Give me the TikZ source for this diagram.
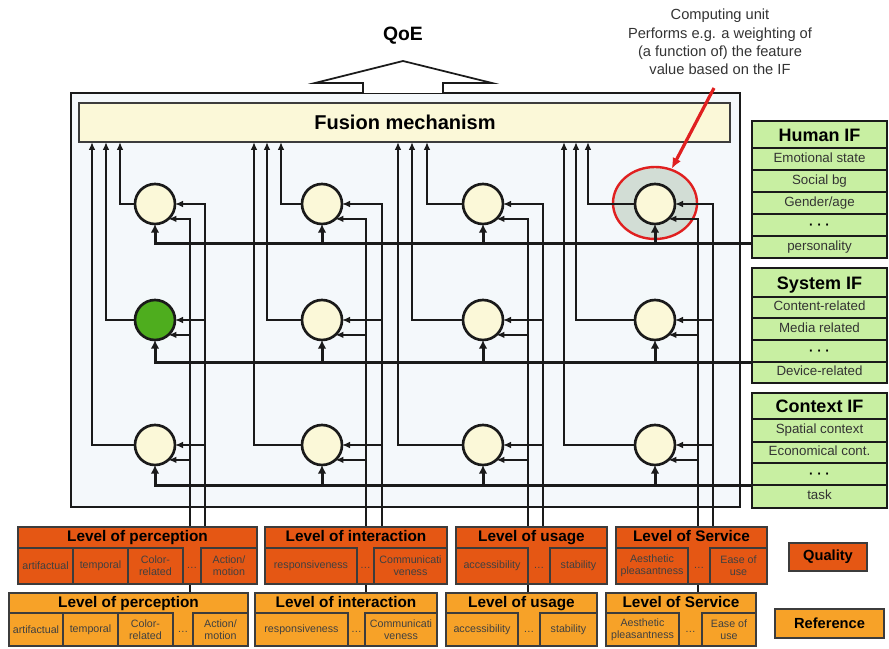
\documentclass[tikz,border=0pt]{standalone}
\usepackage{fontspec}
\setmainfont{Liberation Sans}
\usetikzlibrary{arrows.meta,fit,calc,shapes.geometric}
\definecolor{bgbox}{HTML}{F4F8FB}
\definecolor{fusionc}{HTML}{FBF8D8}
\definecolor{circ}{HTML}{FBF8D8}
\definecolor{leaf}{HTML}{4EAD1E}
\definecolor{qual}{HTML}{E55714}
\definecolor{refc}{HTML}{F7A228}
\definecolor{ifg}{HTML}{C8EFA2}
\definecolor{hlg}{HTML}{D2DDD5}
\definecolor{annred}{HTML}{E02020}
\definecolor{ink}{HTML}{1A1A1A}
\newcommand\mycell[6]{\draw[cellb] (#2,#4) rectangle (#3,#5); \node[ctxt] (#1) at ({(#2+#3)/2},{(#4+#5)/2}) {#6};}
\begin{document}
\begin{tikzpicture}[x=0.75pt,y=-0.75pt,
  wire/.style={draw=ink,line width=1.45pt},
  wirea/.style={wire,-{Latex[length=6pt,width=5pt]}},
  ifl/.style={draw=ink,line width=2.25pt},
  ifla/.style={ifl,-{Latex[length=6.5pt,width=6.5pt]}},
  cir/.style={circle,draw=ink,line width=2pt,fill=circ,minimum size=30pt,inner sep=0pt,outer sep=0pt},
  boxo/.style={draw=ink!85,line width=1.7pt,inner sep=0pt},
  cellb/.style={draw=ink!85,line width=1.6pt},
  ctxt/.style={font=\fontsize{8}{9}\selectfont,text=black!75,align=center,inner sep=0pt},
  ltitle/.style={font=\fontsize{11.5}{13}\selectfont\bfseries,inner sep=0pt,text height=8.5pt,text depth=2.4pt},
  pan/.style={draw=ink,line width=2.2pt,fill=ifg,inner sep=0pt},
  pdiv/.style={draw=ink,line width=1.7pt},
  ptitle/.style={font=\fontsize{13.5}{16}\selectfont\bfseries,inner sep=0pt,text height=10pt,text depth=0pt},
  pitem/.style={font=\fontsize{10}{12}\selectfont,text=black!80,inner sep=0pt,text height=7.3pt,text depth=2.1pt},
  pdots/.style={font=\fontsize{10}{12}\selectfont\bfseries,inner sep=0pt},
]
\useasboundingbox (0,0) rectangle (889,649);

% main frame
\node[fit={(71,93)(740,507)},draw=ink,line width=1.8pt,fill=bgbox,inner sep=0pt] (frame) {};

% QoE arrow
\draw[draw=ink,line width=1.3pt,fill=white,line join=miter] (363,93) -- (363,83) -- (315,83) -- (403,61) -- (492,83) -- (443,83) -- (443,93);
\node[font=\fontsize{14.5}{16}\selectfont\bfseries] (qoe) at (403,36) {QoE};

% fusion
\node[fit={(79,103)(730,142)},boxo,fill=fusionc] (fusion) {};
\node[font=\fontsize{15}{17}\selectfont\bfseries] (fusiont) at (405,122) {Fusion mechanism};

% annotation
\node[align=center,font=\fontsize{11}{13.7}\selectfont,text=black!80] (ann) at (720,42) {Computing unit\\Performs e.g. a weighting of\\(a function of) the feature\\value based on the IF};
\node[ellipse,draw=annred,line width=1.8pt,fill=hlg,minimum width=63pt,minimum height=54pt,inner sep=0pt] (hl) at (655,203) {};
\coordinate (ra) at (714,88);
\draw[annred,line width=2.4pt,-{Latex[length=8pt,width=7pt]}] (ra) -- (hl.64);

% computing units
\node[cir] (c11) at (155,204) {};
\node[cir,fill=leaf] (c12) at (155,320) {};
\node[cir] (c13) at (155,445) {};
\node[cir] (c21) at (322,204) {};
\node[cir] (c22) at (322,320) {};
\node[cir] (c23) at (322,445) {};
\node[cir] (c31) at (483,204) {};
\node[cir] (c32) at (483,320) {};
\node[cir] (c33) at (483,445) {};
\node[cir] (c41) at (655,204) {};
\node[cir] (c42) at (655,320) {};
\node[cir] (c43) at (655,445) {};

% wiring
\foreach \c/\oa/\ob/\oc/\ia/\ib in {1/120/106/92/205/190, 2/281/267/254/382/366, 3/427/412/398/543/528, 4/588/576/564/713/698}{
  \coordinate (o\c1) at (\oa,142);
  \coordinate (o\c2) at (\ob,142);
  \coordinate (o\c3) at (\oc,142);
  \coordinate (ia\c) at (\ia,527);
  \coordinate (ib\c) at (\ib,527);
  \foreach \r in {1,2,3}{
    \draw[wirea] (c\c\r.west) -| (o\c\r);
    \draw[wirea] (ia\c) |- (c\c\r.east);
    \draw[wirea] (ib\c) |- (c\c\r.-48);
  }
}

% influence factor lines
\coordinate (hIF) at (752,243);
\coordinate (sIF) at (752,362);
\coordinate (xIF) at (752,485);
\draw[ifla] (hIF) -| (c11.south);
\draw[ifla] (sIF) -| (c12.south);
\draw[ifla] (xIF) -| (c13.south);
\foreach \c in {2,3,4}{
  \draw[ifla] (c\c1.south |- hIF) -- (c\c1.south);
  \draw[ifla] (c\c2.south |- sIF) -- (c\c2.south);
  \draw[ifla] (c\c3.south |- xIF) -- (c\c3.south);
}

% IF panels
\node[fit={(752,121)(887,258)},pan] (hum) {};
\foreach \y in {148,170,192,214,236} \draw[pdiv] (752,\y) -- (887,\y);
\node[ptitle] (humt) at (819.5,134.5) {Human IF};
\node[pitem] (h1) at (819.5,159) {Emotional state};
\node[pitem] (h2) at (819.5,181) {Social bg};
\node[pitem] (h3) at (819.5,203) {Gender/age};
\node[pdots] (h4) at (819.5,227) {· · ·};
\node[pitem] (h5) at (819.5,247) {personality};

\node[fit={(752,268)(887,383)},pan] (sys) {};
\foreach \y in {297,318,340,362} \draw[pdiv] (752,\y) -- (887,\y);
\node[ptitle] (syst) at (819.5,282.5) {System IF};
\node[pitem] (s1) at (819.5,307.5) {Content-related};
\node[pitem] (s2) at (819.5,329) {Media related};
\node[pdots] (s3) at (819.5,353) {· · ·};
\node[pitem] (s4) at (819.5,372.5) {Device-related};

\node[fit={(752,393)(887,508)},pan] (ctx) {};
\foreach \y in {419,442,463,485} \draw[pdiv] (752,\y) -- (887,\y);
\node[ptitle] (ctxt) at (819.5,406) {Context IF};
\node[pitem] (x1) at (819.5,430.5) {Spatial context};
\node[pitem] (x2) at (819.5,452.5) {Economical cont.};
\node[pdots] (x3) at (819.5,476) {· · ·};
\node[pitem] (x4) at (819.5,496.5) {task};

% quality level boxes
\node[fit={(18,527)(257,584)},boxo,fill=qual] (qP) {};
\node[ltitle] (qPt) at (137.5,537.5) {Level of perception};
\mycell{qP1}{18}{73}{548}{584}{artifactual}
\mycell{qP2}{73}{128}{548}{584}{temporal}
\mycell{qP3}{128}{183}{548}{584}{Color-\\related}
\node[ctxt] (qP4) at (192,568) {\dots};
\mycell{qP5}{201}{257}{548}{584}{Action/\\motion}

\node[fit={(265,527)(447,584)},boxo,fill=qual] (qI) {};
\node[ltitle] (qIt) at (356,537.5) {Level of interaction};
\mycell{qI1}{265}{357}{548}{584}{responsiveness}
\node[ctxt] (qI2) at (365.5,568) {\dots};
\mycell{qI3}{374}{447}{548}{584}{Communicati\\veness}

\node[fit={(456,527)(607,584)},boxo,fill=qual] (qU) {};
\node[ltitle] (qUt) at (531.5,537.5) {Level of usage};
\mycell{qU1}{456}{528}{548}{584}{accessibility}
\node[ctxt] (qU2) at (539,568) {\dots};
\mycell{qU3}{550}{607}{548}{584}{stability}

\node[fit={(616,527)(767,584)},boxo,fill=qual] (qS) {};
\node[ltitle] (qSt) at (691.5,537.5) {Level of Service};
\mycell{qS1}{616}{688}{548}{584}{Aesthetic\\pleasantness}
\node[ctxt] (qS2) at (699,568) {\dots};
\mycell{qS3}{710}{767}{548}{584}{Ease of\\use}

% reference level boxes
\node[fit={(9,593)(248,646)},boxo,fill=refc] (rP) {};
\node[ltitle] (rPt) at (128.5,603) {Level of perception};
\mycell{rP1}{9}{63}{613}{646}{artifactual}
\mycell{rP2}{63}{118}{613}{646}{temporal}
\mycell{rP3}{118}{173}{613}{646}{Color-\\related}
\node[ctxt] (rP4) at (183,632) {\dots};
\mycell{rP5}{193}{248}{613}{646}{Action/\\motion}

\node[fit={(255,593)(437,646)},boxo,fill=refc] (rI) {};
\node[ltitle] (rIt) at (346,603) {Level of interaction};
\mycell{rI1}{255}{348}{613}{646}{responsiveness}
\node[ctxt] (rI2) at (356.5,632) {\dots};
\mycell{rI3}{365}{437}{613}{646}{Communicati\\veness}

\node[fit={(446,593)(597,646)},boxo,fill=refc] (rU) {};
\node[ltitle] (rUt) at (521.5,603) {Level of usage};
\mycell{rU1}{446}{518}{613}{646}{accessibility}
\node[ctxt] (rU2) at (529,632) {\dots};
\mycell{rU3}{540}{597}{613}{646}{stability}

\node[fit={(606,593)(756,646)},boxo,fill=refc] (rS) {};
\node[ltitle] (rSt) at (681,603) {Level of Service};
\mycell{rS1}{606}{679}{613}{646}{Aesthetic\\pleasantness}
\node[ctxt] (rS2) at (690.5,632) {\dots};
\mycell{rS3}{702}{756}{613}{646}{Ease of\\use}

% quality -> reference links
\draw[wire] (qP.south -| ib1) -- (rP.north -| ib1);
\draw[wire] (qI.south -| ib2) -- (rI.north -| ib2);
\draw[wire] (qU.south -| ib3) -- (rU.north -| ib3);
\draw[wire] (qS.south -| ib4) -- (rS.north -| ib4);

% legend
\node[fit={(789,543)(867,571)},boxo,fill=qual] (legq) {};
\node[font=\fontsize{11}{13}\selectfont\bfseries] (legqt) at (828,557) {Quality};
\node[fit={(775,609)(884,638)},boxo,fill=refc] (legr) {};
\node[font=\fontsize{11}{13}\selectfont\bfseries] (legrt) at (829.5,623.5) {Reference};
\end{tikzpicture}
\end{document}
